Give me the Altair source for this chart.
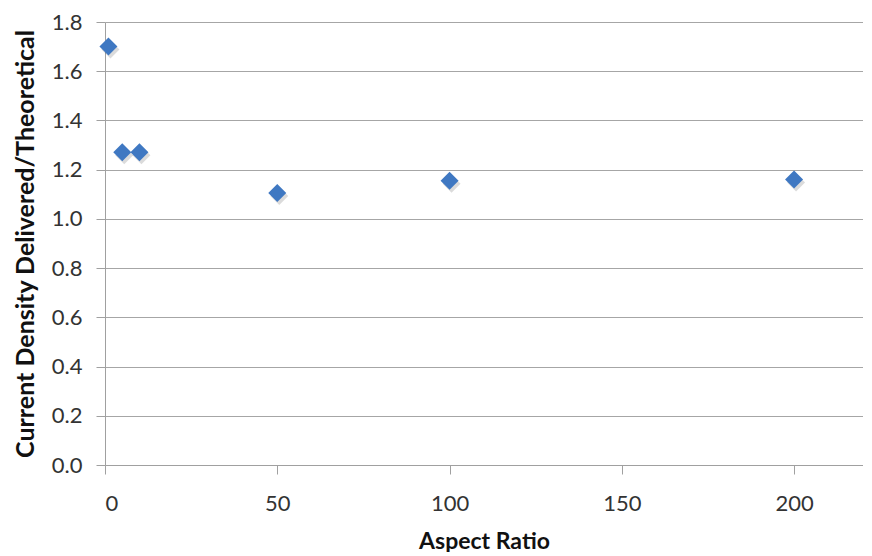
import altair as alt
import pandas as pd

aspect_ratio = [1, 5, 10, 50, 100, 200]
density_ratio = [1.70, 1.271, 1.271, 1.105, 1.155, 1.160]

x_ticks = [0, 50, 100, 150, 200]
y_ticks = [0.0, 0.2, 0.4, 0.6, 0.8, 1.0, 1.2, 1.4, 1.6, 1.8]

df = pd.DataFrame({"ar": aspect_ratio, "cd": density_ratio})

FONT = "Lato"

x_enc = alt.X(
    "ar:Q",
    scale=alt.Scale(domain=[0, 220], nice=False, zero=False),
    axis=alt.Axis(
        title="Aspect Ratio",
        values=x_ticks,
        grid=False,
        tickSize=9,
        tickColor="#A0A0A0",
        domainColor="#A0A0A0",
        labelPadding=19,
        labelFontSize=22,
        labelFont=FONT,
        labelColor="#333333",
        titleFont=FONT,
        titleFontSize=23,
        titleFontWeight="bold",
        titleColor="#111111",
        titleY=83,
        titleBaseline="alphabetic",
    ),
)
y_enc = alt.Y(
    "cd:Q",
    scale=alt.Scale(domain=[0, 1.8], nice=False),
    axis=alt.Axis(
        title="Current Density Delivered/Theoretical",
        values=y_ticks,
        format=".1f",
        grid=True,
        gridColor="#A6A6A6",
        gridWidth=1.2,
        tickSize=9,
        tickColor="#A0A0A0",
        domainColor="#A0A0A0",
        labelPadding=14,
        labelFontSize=22,
        labelFont=FONT,
        labelColor="#333333",
        titleFont=FONT,
        titleFontSize=25,
        titleFontWeight="bold",
        titleColor="#111111",
        titleX=-72,
        titleBaseline="alphabetic",
    ),
)

shadow = alt.Chart(df).mark_point(
    shape="diamond", filled=True, size=324, color="#000000", opacity=0.14
).encode(x=x_enc, y=y_enc, xOffset=alt.value(2), yOffset=alt.value(3))

points = alt.Chart(df).mark_point(
    shape="diamond", filled=True, size=324, color="#3F78C2", opacity=1
).encode(x=x_enc, y=y_enc)

chart = (
    alt.layer(shadow, points)
    .properties(
        width=758,
        height=443,
        autosize=alt.AutoSizeParams(type="none"),
        padding={"left": 97, "top": 14, "right": 0, "bottom": 87},
        background="white",
    )
    .configure_view(stroke=None)
)

chart.save("out.html", embed_options={"renderer": "svg", "actions": False})
